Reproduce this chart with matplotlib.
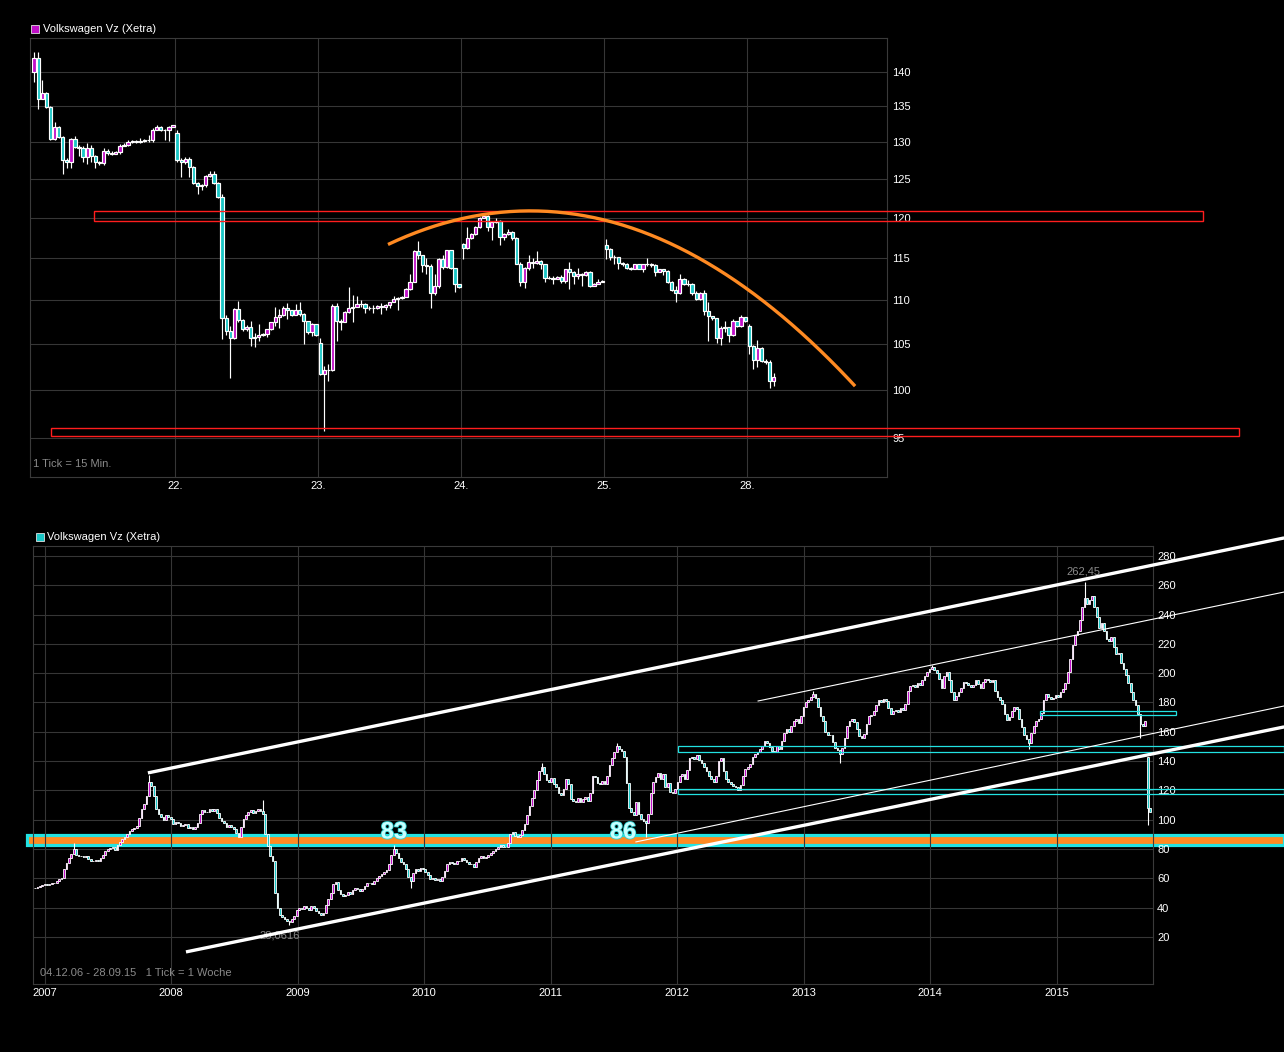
import numpy as np
import matplotlib
matplotlib.use("Agg")
import matplotlib.pyplot as plt
from matplotlib.patches import Rectangle
import matplotlib.patheffects as pe

plt.rcParams["font.family"] = ["Liberation Sans", "DejaVu Sans"]

CYAN = "#19c6c6"
MAGENTA = "#c010c8"
GRID = "#363636"
LINE_CYAN = "#22e2e2"
ORANGE = "#ff8a22"
GRAY_TXT = "#8a8a8a"

# ---------------- intraday chart, 1 tick = 15 min ----------------
day_labels = ["22.", "23.", "24.", "25.", "28."]
bars_per_day = 35
session_open = [140.0, 131.2, 105.1, 116.7, 116.6, 107.0]

close_21 = [142.1, 136.0, 136.9, 134.9, 130.4, 132.0, 130.7, 127.6, 127.3, 130.4,
            129.3, 129.2, 128.0, 129.2, 128.1, 127.2, 127.1, 128.8, 128.5, 128.4,
            128.6, 129.5, 129.6, 130.0, 130.1, 130.0, 130.1, 130.2, 130.3, 131.7,
            132.1, 131.7, 131.6, 132.0, 132.3]
high_21 = [143.0, 143.0, 138.8, 137.1, 135.0, 132.7, 132.2, 130.8, 127.8, 130.6,
           130.8, 129.6, 129.5, 129.8, 129.6, 128.2, 127.4, 129.1, 129.0, 128.7,
           128.8, 129.7, 129.9, 130.2, 130.3, 130.3, 130.6, 130.4, 130.9, 131.9,
           132.3, 132.2, 131.8, 132.2, 132.4]
low_21 = [138.5, 134.6, 136.0, 134.8, 130.2, 130.3, 130.5, 125.6, 126.4, 126.4,
          129.2, 128.1, 127.2, 127.0, 127.3, 126.5, 126.9, 126.9, 128.2, 128.2,
          128.3, 128.4, 129.4, 129.5, 129.9, 129.8, 129.9, 130.0, 130.0, 130.0,
          131.6, 131.5, 130.3, 130.1, 132.2]

close_22 = [127.6, 127.2, 127.7, 126.6, 124.5, 124.1, 124.2, 125.4, 125.7, 124.5,
            122.7, 107.9, 106.4, 105.6, 108.9, 107.7, 106.6, 106.9, 105.7, 105.8,
            106.0, 106.1, 106.6, 107.4, 108.0, 108.2, 109.0, 108.8, 108.3, 108.8,
            108.4, 107.6, 106.3, 107.2, 106.0]
high_22 = [131.7, 127.8, 127.9, 127.9, 126.7, 124.6, 124.4, 125.5, 126.0, 126.0,
           124.6, 123.0, 108.2, 107.0, 109.1, 109.9, 107.8, 107.1, 107.6, 106.2,
           107.2, 106.2, 106.7, 107.5, 109.2, 108.9, 109.3, 109.6, 108.8, 109.5,
           109.8, 108.5, 107.6, 107.3, 107.2]
low_22 = [127.3, 125.2, 127.0, 125.3, 124.4, 123.0, 123.6, 124.0, 125.3, 124.3,
          122.5, 105.5, 106.0, 101.3, 105.5, 107.5, 106.4, 106.4, 104.8, 104.6,
          105.3, 105.9, 105.8, 106.5, 107.0, 106.8, 108.1, 107.8, 108.1, 108.2,
          108.1, 105.0, 106.1, 105.9, 105.9]

close_23 = [101.7, 102.1, 102.1, 109.3, 107.6, 107.5, 108.6, 109.1, 109.2, 109.5,
            109.5, 109.0, 109.0, 109.0, 109.3, 109.2, 109.4, 109.7, 110.1, 110.2,
            110.3, 111.3, 112.1, 115.8, 115.3, 114.1, 114.0, 110.8, 111.6, 114.9,
            113.9, 115.9, 113.8, 111.9, 111.5]
high_23 = [105.7, 102.6, 102.8, 109.5, 109.6, 107.8, 108.7, 111.5, 110.6, 110.4,
           110.0, 109.6, 109.3, 109.4, 109.4, 109.6, 109.5, 109.8, 110.4, 110.3,
           110.4, 111.4, 113.0, 115.9, 117.0, 115.3, 115.0, 114.2, 113.1, 115.0,
           115.3, 116.0, 116.0, 113.8, 111.6]
low_23 = [101.6, 95.7, 101.0, 102.0, 105.3, 106.5, 107.5, 108.5, 107.5, 109.3,
          109.2, 108.5, 108.8, 108.5, 108.9, 108.4, 108.8, 109.0, 109.7, 108.8,
          110.1, 110.3, 111.2, 112.3, 114.8, 113.3, 113.1, 109.0, 110.6, 111.4,
          113.6, 113.8, 113.7, 110.9, 111.4]

close_24 = [116.2, 117.4, 117.9, 118.8, 120.0, 120.2, 118.8, 119.4, 119.6, 117.5,
            117.9, 118.2, 117.4, 114.3, 112.1, 113.8, 114.5, 114.4, 114.6, 114.3,
            112.6, 112.6, 112.5, 112.7, 112.2, 113.6, 113.3, 112.8, 113.1, 112.9,
            113.3, 111.6, 111.9, 112.1, 112.2]
high_24 = [116.8, 118.8, 118.1, 118.9, 120.1, 120.4, 120.3, 119.5, 120.0, 119.7,
           118.0, 118.6, 118.3, 117.6, 114.5, 113.9, 115.3, 115.0, 115.8, 114.7,
           114.3, 112.8, 112.8, 112.8, 112.9, 113.7, 114.5, 113.4, 113.8, 113.2,
           113.4, 113.4, 112.0, 112.5, 112.3]
low_24 = [114.9, 116.1, 117.3, 117.8, 118.7, 119.9, 118.3, 117.2, 119.3, 116.6,
          117.2, 117.8, 117.2, 114.2, 111.6, 111.4, 113.5, 113.8, 114.2, 113.7,
          112.1, 112.4, 111.8, 112.5, 112.0, 112.0, 111.3, 111.9, 112.5, 111.6,
          112.8, 111.5, 111.7, 111.9, 112.1]

close_25 = [116.1, 115.1, 115.1, 114.4, 114.3, 113.8, 113.7, 114.2, 113.7, 114.2,
            114.3, 114.1, 113.3, 113.6, 113.4, 112.1, 111.1, 110.8, 112.4, 111.8,
            111.9, 110.8, 110.1, 110.8, 108.7, 108.1, 107.9, 105.6, 106.8, 106.9,
            106.0, 107.6, 107.0, 108.0, 107.6]
high_25 = [117.3, 116.2, 115.3, 115.1, 114.5, 114.4, 113.9, 114.3, 114.2, 114.3,
           115.0, 114.4, 114.2, 113.7, 113.6, 113.5, 112.2, 111.6, 113.1, 112.6,
           112.3, 112.0, 111.0, 110.9, 111.2, 109.7, 108.1, 107.9, 107.0, 107.6,
           106.9, 107.8, 107.6, 108.2, 107.7]
low_25 = [114.8, 114.7, 114.3, 113.7, 114.0, 113.7, 113.5, 113.6, 113.6, 113.3,
          114.0, 113.9, 112.8, 113.3, 112.9, 112.0, 111.0, 109.8, 110.7, 111.7,
          111.6, 110.6, 110.0, 110.0, 108.2, 105.3, 107.7, 105.1, 104.9, 106.3,
          105.2, 105.9, 106.9, 106.9, 107.5]

close_28 = [104.8, 103.2, 104.5, 103.1, 103.0, 101.0, 101.4]
high_28 = [107.2, 104.9, 105.4, 104.6, 103.3, 103.2, 101.8]
low_28 = [103.9, 102.2, 102.5, 103.0, 102.8, 100.2, 100.4]

intraday_ticks = [95, 100, 105, 110, 115, 120, 125, 130, 135, 140]
# zones / arc on the intraday chart (bar index, price)
zone_upper = (14.7, 286.1, 119.6, 120.85)
zone_lower = (4.2, 294.9, 95.2, 96.1)
arc_start = 86.6
arc_peak = (121.4, 120.85)
arc_end = (200.9, 100.4)

# ---------------- weekly chart 04.12.06 - 28.09.15 ----------------
week_start = "2006-12-04"
first_open = 53.0
weekly_close = [
    53.5, 54.2, 55.0, 55.6, 56.0, 55.5, 56.4, 56.8, 56.6, 57.8,
    59.5, 60.5, 66.0, 70.5, 74.0, 76.5, 80.0, 76.0, 75.5, 75.0,
    74.5, 75.2, 73.0, 72.0, 71.5, 72.5, 71.8, 73.5, 76.0, 78.5,
    80.0, 80.5, 81.0, 79.5, 82.5, 85.0, 87.0, 88.0, 90.5, 92.0,
    93.5, 94.0, 95.5, 101.0, 107.0, 111.0, 116.0, 126.0, 123.0, 116.0,
    107.0, 104.0, 101.5, 100.0, 103.0, 102.0, 100.5, 97.0, 98.5, 97.5,
    95.5, 96.0, 97.0, 94.5, 95.0, 93.5, 95.0, 98.0, 104.0, 106.5,
    105.5, 105.0, 107.5, 106.0, 107.0, 104.5, 101.0, 99.0, 97.5, 95.0,
    96.5, 95.0, 93.5, 91.0, 88.0, 95.0, 100.5, 103.5, 105.0, 106.5,
    104.5, 106.0, 107.0, 106.0, 104.0, 90.0, 82.0, 75.0, 72.0, 50.0,
    40.0, 35.0, 33.5, 32.5, 31.0, 30.0, 32.0, 34.5, 38.0, 40.0,
    39.0, 41.0, 40.0, 38.5, 41.0, 39.5, 37.5, 36.0, 35.0, 36.5,
    42.0, 46.0, 50.0, 56.0, 57.5, 52.0, 49.0, 48.0, 48.5, 50.5,
    49.0, 52.0, 53.5, 52.5, 51.0, 52.5, 55.0, 57.0, 56.5, 56.0,
    58.0, 60.5, 61.5, 63.0, 64.0, 65.5, 70.0, 76.0, 80.0, 77.0,
    74.0, 71.0, 69.5, 66.0, 61.0, 58.0, 63.5, 66.0, 65.0, 67.0,
    66.0, 64.5, 62.0, 59.5, 60.0, 58.5, 59.5, 58.0, 61.0, 65.0,
    69.5, 71.0, 70.5, 70.0, 71.5, 72.0, 74.0, 72.5, 71.0, 70.0,
    69.5, 68.0, 71.0, 73.5, 75.0, 74.0, 74.5, 76.0, 77.0, 78.5,
    80.0, 81.0, 82.5, 81.0, 81.5, 84.0, 90.0, 91.5, 89.0, 88.0,
    89.5, 93.0, 97.0, 103.0, 109.0, 115.0, 120.0, 127.0, 133.0, 136.0,
    131.0, 127.0, 126.0, 128.5, 124.0, 122.5, 118.0, 117.0, 121.0, 128.0,
    124.5, 114.0, 112.5, 112.0, 114.5, 112.0, 114.0, 115.5, 113.0, 118.0,
    130.0, 129.0, 125.0, 124.0, 126.5, 124.0, 130.0, 137.0, 142.0, 146.5,
    150.0, 148.5, 147.0, 143.0, 125.0, 108.0, 105.5, 103.0, 112.0, 104.0,
    100.5, 99.0, 98.0, 104.0, 118.0, 126.0, 129.0, 132.0, 128.0, 131.0,
    122.0, 125.0, 119.0, 118.0, 121.0, 126.0, 129.5, 131.0, 128.0, 134.0,
    142.0, 143.0, 141.5, 144.0, 141.0, 138.5, 136.0, 133.0, 130.0, 128.0,
    126.0, 129.5, 140.0, 142.0, 133.0, 128.0, 126.0, 124.5, 123.0, 122.0,
    120.5, 123.5, 130.0, 134.5, 136.0, 138.0, 142.5, 145.0, 146.0, 148.0,
    150.5, 153.5, 152.0, 149.5, 147.0, 146.0, 150.0, 148.0, 154.0, 159.0,
    162.0, 160.0, 164.0, 167.0, 168.5, 166.0, 171.0, 177.0, 180.0, 182.0,
    184.0, 185.5, 183.0, 177.0, 171.0, 167.0, 160.0, 158.0, 157.5, 153.0,
    149.0, 147.5, 145.0, 149.0, 156.0, 164.0, 167.0, 168.5, 166.5, 162.0,
    157.0, 156.0, 158.5, 165.0, 170.5, 171.5, 174.0, 178.5, 182.0, 180.5,
    182.5, 181.0, 176.0, 172.0, 174.5, 175.0, 173.5, 176.0, 175.0, 179.0,
    188.0, 191.0, 192.0, 190.5, 193.0, 192.0, 195.0, 198.0, 201.0, 202.5,
    204.0, 202.0, 200.0, 196.0, 190.0, 198.0, 201.0, 195.0, 187.0, 182.0,
    184.5, 187.0, 190.0, 194.0, 193.0, 192.0, 190.5, 192.0, 195.5, 192.5,
    190.0, 194.0, 196.0, 195.0, 194.0, 195.5, 188.0, 184.0, 182.0, 179.0,
    172.0, 168.0, 170.0, 174.0, 177.0, 175.5, 169.0, 163.0, 158.0, 155.0,
    152.0, 159.0, 164.0, 167.0, 169.0, 173.0, 182.0, 186.0, 184.0, 182.5,
    183.0, 185.0, 184.0, 187.0, 189.0, 193.0, 201.0, 210.0, 219.0, 226.0,
    229.0, 236.0, 245.0, 251.0, 247.0, 250.0, 253.0, 245.0, 238.0, 231.0,
    234.5, 229.0, 223.0, 222.0, 225.0, 218.0, 213.0, 213.5, 207.0, 203.0,
    199.0, 193.0, 187.0, 182.0, 178.0, 172.0, 165.0, 164.0, 167.0, 108.0,
    105.5,
]
gap_open = {459: 143.0}
week_high = {16: 84.0, 47: 130.5, 94: 113.4, 148: 83.0, 209: 139.0,
             240: 152.0, 321: 188.0, 370: 205.5, 433: 262.45}
week_low = {105: 28.06, 155: 53.0, 252: 88.0, 332: 139.0, 410: 148.5,
            456: 156.0, 459: 96.4}
years = [2007, 2008, 2009, 2010, 2011, 2012, 2013, 2014, 2015]
weekly_ticks = list(range(20, 281, 20))

# trend channel lines (week index, price)
thick_lines = [[(46.6, 131.9), (515.3, 292.3)], [(62.3, 9.7), (515.3, 163.3)]]
thin_lines = [[(298.3, 181.0), (515.3, 255.4)], [(247.9, 84.8), (515.3, 177.6)]]
support_band = (-3.3, 515.3, 83.0, 89.2)
cyan_boxes = [(265.3, 515.3, 146.2, 150.3), (265.3, 515.3, 117.2, 120.7),
              (414.6, 470.7, 171.6, 174.2)]


def draw_candles(ax, x, o, h, l, c, width, lw_body, lw_wick):
    x, o, h, l, c = map(np.asarray, (x, o, h, l, c))
    h = np.maximum(h, np.maximum(o, c))
    l = np.minimum(l, np.minimum(o, c))
    ax.vlines(x, l, h, color="white", lw=lw_wick, zorder=3)
    up = c >= o
    ax.bar(x[up], (c - o)[up], bottom=o[up], width=width, color=MAGENTA,
           edgecolor="white", linewidth=lw_body, zorder=4)
    ax.bar(x[~up], (c - o)[~up], bottom=o[~up], width=width, color=CYAN,
           edgecolor="white", linewidth=lw_body, zorder=4)


def style_axes(ax):
    ax.set_facecolor("black")
    for s in ax.spines.values():
        s.set_color("#3a3a3a")
        s.set_linewidth(0.8)
    ax.tick_params(colors="white", length=0, labelsize=8)
    ax.yaxis.tick_right()


fig = plt.figure(figsize=(12.84, 10.52), dpi=100, facecolor="black")
W, H = 1284, 1052

# ================= top: intraday =================
ax1 = fig.add_axes([30 / W, 1 - 477 / H, 857 / W, 439 / H])
style_axes(ax1)

closes = [close_21, close_22, close_23, close_24, close_25, close_28]
highs = [high_21, high_22, high_23, high_24, high_25, high_28]
lows = [low_21, low_22, low_23, low_24, low_25, low_28]
xi, oi, hi, li, ci = [], [], [], [], []
for d, cl in enumerate(closes):
    xi += [d * bars_per_day + j for j in range(len(cl))]
    oi += [session_open[d]] + cl[:-1]
    hi += highs[d]
    li += lows[d]
    ci += cl

ax1.set_yscale("log")
draw_candles(ax1, xi, oi, hi, li, ci, 0.8, 0.85, 0.85)
ax1.set_xlim(-1.0, 208.7)
ax1.set_ylim(91.2, 145.1)
ax1.minorticks_off()
ax1.set_yticks(intraday_ticks)
ax1.set_yticklabels([str(t) for t in intraday_ticks])
day_pos = [(k + 1) * bars_per_day - 0.5 for k in range(len(day_labels))]
ax1.set_xticks(day_pos)
ax1.set_xticklabels(day_labels)
ax1.tick_params(axis="y", pad=4)
ax1.tick_params(axis="x", pad=3)
for t in intraday_ticks:
    ax1.axhline(t, color=GRID, lw=0.8, zorder=1)
for p in day_pos:
    ax1.axvline(p, color=GRID, lw=0.8, zorder=1)

for x0, x1, p0, p1 in [zone_upper, zone_lower]:
    ax1.add_patch(Rectangle((x0, p0), x1 - x0, p1 - p0, fill=False,
                            edgecolor="#ff1e1e", lw=1.0, zorder=6, clip_on=False))

k = np.log(arc_peak[1] / arc_end[1]) / (arc_end[0] - arc_peak[0]) ** 2
ax_arc = np.linspace(arc_start, arc_end[0], 200)
ax1.plot(ax_arc, arc_peak[1] * np.exp(-k * (ax_arc - arc_peak[0]) ** 2),
         color=ORANGE, lw=2.4, zorder=7, solid_capstyle="butt")

ax1.text(0.004, 0.03, "1 Tick = 15 Min.", transform=ax1.transAxes,
         color=GRAY_TXT, fontsize=8, va="center")

# ================= bottom: weekly =================
ax2 = fig.add_axes([33 / W, 1 - 984 / H, 1120 / W, 438 / H])
style_axes(ax2)

wc = np.array(weekly_close)
wx = np.arange(len(wc))
wo = np.concatenate([[first_open], wc[:-1]])
for i, v in gap_open.items():
    wo[i] = v
wh = np.maximum(wo, wc)
wl = np.minimum(wo, wc)
for i, v in week_high.items():
    wh[i] = v
for i, v in week_low.items():
    wl[i] = v
draw_candles(ax2, wx, wo, wh, wl, wc, 0.7, 0.6, 0.8)

ax2.set_xlim(-0.8, 461.2)
ax2.set_ylim(-12.2, 286.8)
start = np.datetime64(week_start)
year_pos = [(np.datetime64(f"{y}-01-01") - start) / np.timedelta64(7, "D") for y in years]
ax2.set_xticks(year_pos)
ax2.set_xticklabels([str(y) for y in years])
ax2.set_yticks(weekly_ticks)
ax2.set_yticklabels([str(t) for t in weekly_ticks])
ax2.tick_params(axis="y", pad=3)
ax2.tick_params(axis="x", pad=3)
for t in weekly_ticks:
    ax2.axhline(t, color=GRID, lw=0.8, zorder=1)
for p in year_pos:
    ax2.axvline(p, color=GRID, lw=0.8, zorder=1.5)

x0, x1, p0, p1 = support_band
ax2.add_patch(Rectangle((x0, p0), x1 - x0, p1 - p0, facecolor=ORANGE,
                        edgecolor=LINE_CYAN, lw=2.3, zorder=1.2, clip_on=False))
for x0, x1, p0, p1 in cyan_boxes:
    ax2.add_patch(Rectangle((x0, p0), x1 - x0, p1 - p0, fill=False,
                            edgecolor=LINE_CYAN, lw=0.9, zorder=5, clip_on=False))

for (a, b) in thick_lines:
    ax2.plot([a[0], b[0]], [a[1], b[1]], color="white", lw=2.4, zorder=6,
             clip_on=False, solid_capstyle="butt")
for (a, b) in thin_lines:
    ax2.plot([a[0], b[0]], [a[1], b[1]], color="white", lw=0.8, zorder=6,
             clip_on=False)

for lbl, wpos in [("83", 148.1), ("86", 242.6)]:
    ax2.text(wpos, 91.6, lbl, color="#c8ffff", fontsize=17, fontweight="bold",
             ha="center", va="center", zorder=8,
             path_effects=[pe.withStroke(linewidth=1.2, foreground="#30d0d0")])

ax2.text(432.3, 269.1, "262,45", color=GRAY_TXT, fontsize=8, ha="center",
         va="center", zorder=5)
ax2.text(101.1, 20.6, "28,0616", color=GRAY_TXT, fontsize=8, ha="center",
         va="center", zorder=2)
ax2.text(0.006, 0.025, "04.12.06 - 28.09.15   1 Tick = 1 Woche",
         transform=ax2.transAxes, color=GRAY_TXT, fontsize=8, va="center")

# legends
for (sx, sy, col, tx) in [(31, 25, MAGENTA, 43), (36, 533, CYAN, 47)]:
    fig.patches.append(Rectangle((sx / W, 1 - (sy + 8) / H), 8 / W, 8 / H,
                                 transform=fig.transFigure, facecolor=col,
                                 edgecolor="#e0e0e0", lw=0.6))
    fig.text(tx / W, 1 - (sy + 4) / H, "Volkswagen Vz (Xetra)", color="white",
             fontsize=8, va="center")

fig.savefig("out.png", dpi=100, facecolor="black")
